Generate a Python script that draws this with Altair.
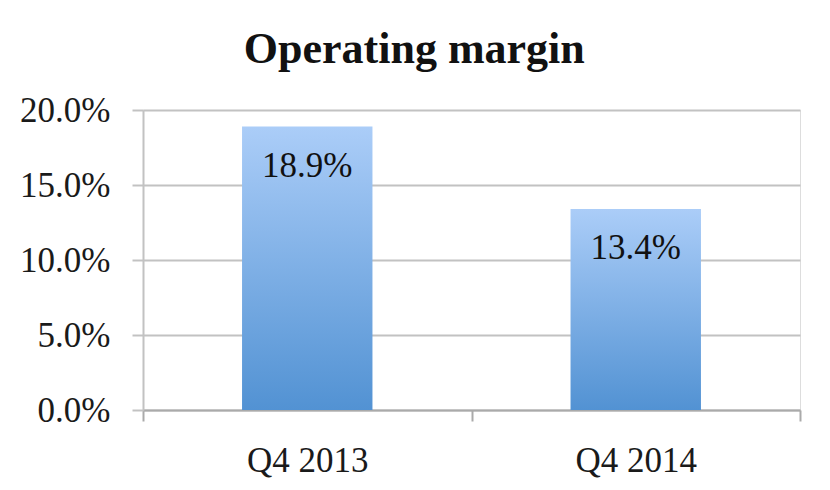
import altair as alt
import pandas as pd

quarters = ["Q4 2013", "Q4 2014"]
margins = [0.189, 0.134]
y_ticks = [0.0, 0.05, 0.10, 0.15, 0.20]

df = pd.DataFrame({"quarter": quarters, "margin": margins})

FONT = "Liberation Serif"
GRID = "#c2c2c2"

x_enc = alt.X(
    "quarter:N", sort=None, title=None,
    scale=alt.Scale(paddingInner=0, paddingOuter=0),
    axis=alt.Axis(labelAngle=0, tickBand="extent", labelFont=FONT, labelFontSize=35,
                  labelColor="#1a1a1a", labelPadding=22, tickSize=11, tickColor="#aaaaaa",
                  tickWidth=2, domainColor="#aaaaaa", domainWidth=2, grid=False),
)
y_enc = alt.Y(
    "margin:Q", title=None,
    scale=alt.Scale(domain=[0, 0.2], nice=False),
    axis=alt.Axis(values=y_ticks, format=".1%", grid=True, gridColor=GRID, gridWidth=2,
                  domainColor=GRID, domainWidth=2, tickColor=GRID, tickWidth=2, tickSize=11,
                  labelPadding=22, labelFont=FONT, labelFontSize=35, labelColor="#1a1a1a"),
)

grad = alt.Gradient(
    gradient="linear",
    stops=[alt.GradientStop(color="#abcdf8", offset=0),
           alt.GradientStop(color="#5292d3", offset=1)],
    x1=0, x2=0, y1=0, y2=1,
)

bars = alt.Chart(df).mark_bar(color=grad, width=alt.RelativeBandSize(0.397)).encode(x=x_enc, y=y_enc)
labels = alt.Chart(df).mark_text(dy=39, baseline="middle", font=FONT, fontSize=35, color="#111111").encode(
    x=x_enc,
    y=y_enc,
    text=alt.Text("margin:Q", format=".1%"),
)

chart = alt.layer(bars, labels).properties(
    width=657, height=300,
    title=alt.Title("Operating margin", font=FONT, fontSize=44, fontWeight="bold",
                    anchor="middle", frame="bounds", color="#111111", offset=21, dx=4),
    autosize=alt.AutoSizeParams(type="none"),
    padding={"left": 135, "top": 102, "right": 22, "bottom": 72},
).configure_view(stroke="transparent", strokeWidth=0).configure(background="white")

chart.save("out.html", embed_options={"renderer": "svg", "actions": False})
